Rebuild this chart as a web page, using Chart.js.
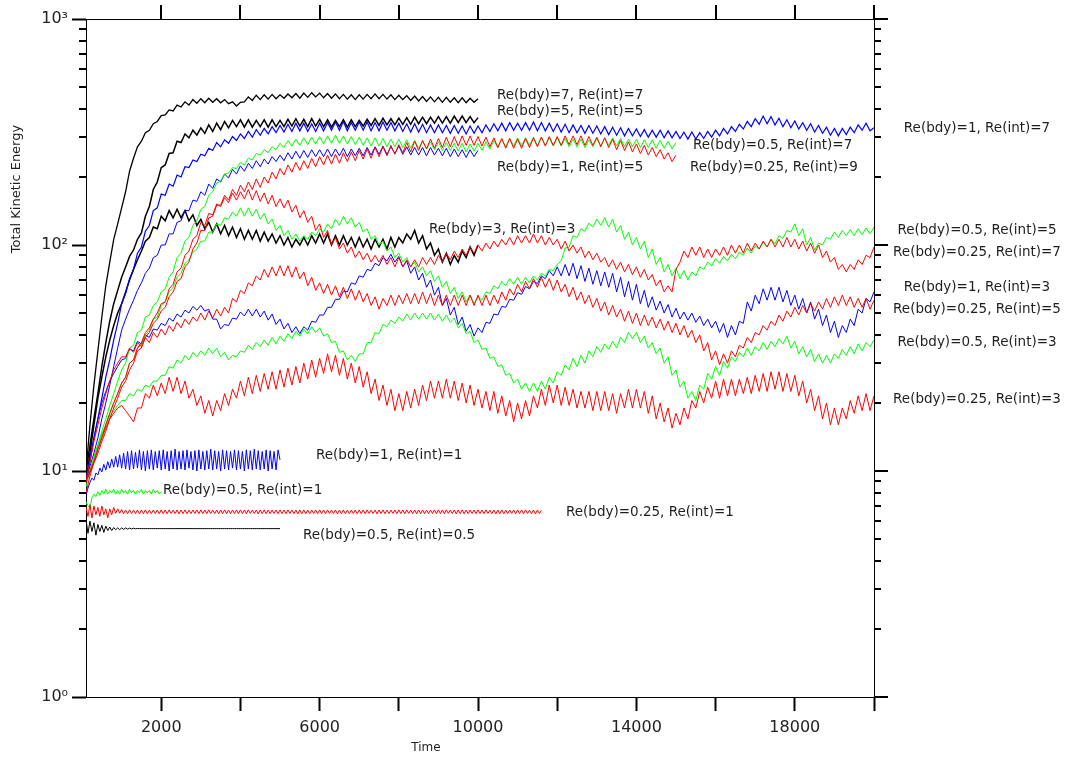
<!DOCTYPE html>
<html><head><meta charset="utf-8">
<script src="https://cdn.jsdelivr.net/npm/chart.js@4.4.1/dist/chart.umd.min.js"></script>
<style>html,body{margin:0;padding:0;background:#fff;}canvas{display:block;}</style>
</head><body>
<canvas id="c" width="1068" height="757"></canvas>
<script>
// ---------- time grid ----------
const T_START = 100;     // first sample time
const STEP = 100;        // sample spacing of main runs
const LOW_STEP = 50;     // sample spacing of low-energy runs

// ---------- axis ticks ----------
const xTickValues = [2000,4000,6000,8000,10000,12000,14000,16000,18000,20000];
const xTickLabels = [2000,6000,10000,14000,18000];
const yDecades = [1,10,100,1000];
const yDecadeLabels = ['10⁰','10¹','10²','10³'];

// ---------- series values (Total Kinetic Energy) ----------
const ke_b7_i7 = [
10,16,24,34,48,66,84,106,124,146,
172,212,242,272,288,314,322,344,352,374,
376,396,392,416,408,430,416,440,424,444,
426,446,428,444,426,440,422,430,412,428,
430,452,436,460,440,462,442,464,444,462,
446,466,448,468,446,470,450,472,452,470,
448,468,446,466,444,464,442,462,440,462,
442,464,444,466,444,464,442,462,440,460,
440,458,436,456,434,454,432,452,430,450,
428,450,428,448,426,448,426,446,428,444];

const ke_b5_i5 = [
10,13,17,22,29,37,46,55,63,72,
80,89,95,106,113,134,148,176,190,220,
226,254,256,288,284,310,298,322,306,330,
312,340,318,346,324,352,330,356,334,358,
332,358,332,356,334,358,332,358,334,356,
334,360,336,362,336,360,334,362,336,360,
334,358,332,356,334,358,332,358,334,356,
336,360,338,362,338,364,340,362,340,364,
342,366,342,368,344,368,344,368,346,370,
346,370,346,372,348,372,348,370,348,366];

const ke_b3_i3 = [
9,12,16,21,26,32,38,44,50,55,
62,70,78,86,94,104,108,120,118,134,
128,142,132,144,132,142,128,136,122,130,
118,126,114,124,112,122,110,120,108,118,
106,116,106,116,104,114,104,112,102,110,
100,108,98,106,100,108,100,110,102,112,
102,112,100,110,100,110,100,108,98,108,
98,106,96,106,98,106,96,108,98,108,
102,112,106,116,102,110,96,102,90,96,
84,92,82,90,84,94,88,98,90,100];

const ke_b1_i7 = [
9,11,14,17,21,26,31,38,45,55,
61,71,78,92,98,115,122,142,146,168,
166,186,182,204,200,222,220,238,234,252,
248,268,262,284,272,292,282,302,290,310,
296,318,300,324,306,328,310,334,314,338,
316,342,318,346,320,346,318,344,318,346,
320,348,322,350,322,352,320,348,322,350,
322,350,320,348,320,350,322,348,320,346,
318,344,316,344,316,342,314,340,314,340,
314,338,312,338,312,336,310,336,312,336,
314,340,318,344,320,346,320,348,322,346,
322,348,322,350,320,348,320,346,318,344,
316,342,314,340,314,338,312,338,312,336,
310,334,308,332,306,330,304,328,304,326,
302,324,300,322,300,322,298,320,298,318,
296,316,294,316,294,314,296,318,300,322,
304,328,310,334,318,342,326,352,334,362,
342,372,344,370,340,364,334,358,330,354,
326,348,322,344,316,338,312,332,306,328,
304,328,308,332,314,340,322,346,320,330];

const ke_b1_i5 = [
9,10.5,12,14,17,20,24,29,35,42,
47,52,57,63,68,75,79,88,90,100,
100,112,112,126,128,142,142,158,156,172,
166,186,178,196,190,206,198,216,206,224,
212,230,218,236,222,240,228,246,234,250,
236,256,240,260,242,262,244,264,246,264,
246,266,246,266,248,268,246,266,248,268,
248,270,250,272,252,274,252,272,254,274,
252,272,250,270,250,270,248,270,250,268,
248,268,246,266,246,264,244,264,246,262];

const ke_b05_i7 = [
9,10,11.5,13,15,17,19.5,22,25,28,
30,35,36,41,42,48,49,54,56,62,
64,72,76,88,92,104,108,122,128,144,
148,166,172,188,192,206,208,220,218,232,
226,242,238,254,250,264,256,272,264,282,
270,290,274,294,276,298,278,300,280,302,
280,304,282,306,282,304,280,302,278,300,
276,298,274,298,274,296,272,294,272,294,
270,292,268,290,268,288,266,286,264,286,
262,284,262,282,260,282,258,280,260,282,
262,286,266,290,270,294,272,296,274,298,
274,298,276,300,276,300,276,298,274,298,
274,296,272,294,272,294,270,292,272,296,
274,298,276,298,274,296,272,294,272,294,
270,292,270,292,268,290,268,288,266,284];

const ke_b025_i9 = [
9,9.8,10.8,12,13.5,15,17,19,21,23.5,
25,28,30,34,35,39,41,45,47,51,
53,59,62,69,71,80,84,96,102,116,
116,132,134,150,150,166,158,176,166,184,
172,190,176,196,180,200,188,210,196,218,
204,226,210,232,214,236,218,242,222,246,
226,250,228,252,230,256,234,258,236,262,
240,266,242,270,246,272,248,276,252,278,
256,284,258,288,262,290,266,294,268,296,
270,300,272,302,274,304,276,304,276,302,
274,300,272,298,270,296,268,296,268,294,
268,296,270,298,272,300,274,302,276,302,
276,304,278,304,278,304,276,302,276,300,
272,298,270,294,264,290,262,286,258,280,
254,276,250,270,246,264,240,256,234,250];

const ke_b025_i7 = [
9,10,11,12.5,14,16,18,20,22,24.5,
26,30,31,35,37,41,43,47,50,55,
56,64,67,76,79,90,94,106,110,126,
122,138,136,152,148,162,154,170,158,172,
160,176,158,174,156,170,152,166,148,160,
146,158,140,150,132,142,126,134,116,124,
108,116,100,108,96,102,92,98,88,94,
86,92,84,90,84,90,82,88,80,88,
80,86,80,86,80,88,82,88,82,90,
84,92,86,94,88,96,90,98,92,100,
94,102,96,104,98,106,100,108,100,110,
102,110,102,112,102,110,100,108,100,106,
96,104,94,100,92,98,88,94,86,92,
84,88,80,86,78,84,76,82,74,80,
72,78,70,74,66,70,62,66,62,78,
84,94,88,98,90,98,88,96,88,96,
90,98,90,100,92,100,92,102,94,102,
96,104,98,106,98,106,98,108,98,106,
96,104,94,102,92,100,88,94,84,88,
78,82,76,82,78,86,82,90,88,98];

const ke_b025_i5 = [
9,11,13.5,16,19,22,25,28,30,32,
32,35,33.5,37,35.5,39,37,41,39,42.5,
40,44,41.5,45.5,43,47,44.5,48,46,50,
46.5,51,47.5,52,48.5,53,50,58,56,63,
61,68,66,73,70,78,72,80,73,81,
73,81,72,80,71,76,66,72,63,68,
61,67,60,66,59,65,58,64,57,63,
56,61,54,59,52,58,54,60,54,60,
55,61,55,61,55,62,55,61,54,60,
54,60,54,60,54,60,54,60,54,60,
54,60,54,60,55,62,57,64,60,67,
62,69,64,71,65,72,65,71,63,70,
62,67,59,65,57,62,55,60,53,58,
51,56,49,54,48,52,46,51,45,50,
44,49,44,48,43,47,42,46,41,45,
40,44,39,42,37,40,34,37,31,34,
29.5,33,30,34,32,36,35,39,37,41,
40,44,42,46,44,49,46,51,48,53,
49,54,50,55,51,56,52,58,53,59,
54,60,54,59,53,58,53,58,52,57];

const ke_b1_i3 = [
9,11.5,14,17,20,22.5,25,27,29,31,
31.5,34.5,34,37.5,36.5,40,39,42.5,42,45,
44,47.5,46,49.5,48,51.5,50,53.5,51.5,54,
51,52,47,47,42.5,44.5,44,47.5,47,50.5,
48.5,52,48.5,52,48,51,46.5,49.5,44.5,47,
42.5,45,41,43.5,40.5,43.5,42,46,45.5,49,
49,53,53,57.5,57.5,62.5,62,68,67,73,
72,78,77,83,81,88,85,91,84,89,
80,85,75,80,70,75,65,70,60,65,
54,58,49,53,44.5,48,41.5,44.5,39.5,43,
41,45.5,45,49.5,49,53.5,53,57.5,57,61.5,
60.5,65.5,64,69,67.5,73,71,77,73,80,
73,82,73,83,71,81,69,79,67,77,
66,76,65,75,62,72,59,69,57,67,
55,63,53,59,51.5,56.5,50,54.5,48,52.5,
47,50.5,46.5,50,45.5,48.5,44,47,43,46,
41,45,39,44,40,46,45,56,51,60,
55,64,57,65,57,65,56,63,54,60,
52,58,50,56,47,52,44,49,41,46,
39,44,41,47,44,52,50,58,56,62];

const ke_b05_i5 = [
9,10,11.5,13,14.5,16,18,20,22,24.5,
26,30,31,35,36,40,42,47,48,54,
56,62,65,72,75,83,86,93,96,104,
104,114,114,124,122,132,130,140,134,146,
134,146,134,144,130,138,124,130,116,122,
110,116,106,112,104,110,106,114,110,118,
114,124,118,130,122,134,124,132,120,126,
114,118,106,110,100,104,94,98,88,92,
84,88,80,84,76,80,73,77,69,73,
65,69,61,65,58,62,56,60,55,59,
57,62,61,66,64,69,66,71,67,72,
67,72,68,73,70,75,73,78,77,82,
85,97,98,110,108,118,115,125,120,130,
122,132,120,130,114,122,106,114,100,108,
96,104,88,96,82,88,76,82,73,79,
71,77,70,76,73,80,78,84,81,87,
83,89,85,91,87,93,90,97,92,99,
96,103,98,106,101,110,107,116,114,124,
110,118,100,108,95,102,100,108,106,114,
108,116,110,117,110,118,111,119,112,120];

const ke_b05_i3 = [
8.5,10,11.5,13,14.5,16,17.5,18.5,19.5,20.5,
20.5,22,21.5,23,22.5,24,23.5,25,25,26.5,
26.5,29,28.5,31,30,32.5,31,33.5,32,34,
32.5,35,33,35,32,33.5,31,32.5,32,34,
33.5,36,34.5,37,35.5,38,36,39,36.5,39.5,
37.5,40.5,38.5,41.5,39.5,42.5,40.5,43.5,41,43,
39.5,40.5,37,37.5,33.5,34,31,32.5,30.5,33,
33,37,37,41,40.5,44.5,43.5,46.5,45,48,
46,49.5,46.5,50,47,50,47,50,46.5,49.5,
46,49,45.5,47.5,43,45,40.5,41.5,37,38,
34.5,35,31.5,32,29,29.5,26.5,27,24.5,25.5,
23,24.5,22.5,24.5,22.5,25,23,26,24.5,27.5,
26.5,29.5,28,31.5,29,32.5,30,34,32,35.5,
33.5,36.5,34.5,37.5,35,39,37,41,38.5,41,
37,39.5,35,37,33,35,30,32,26.5,28,
23.5,25,21,22.5,20.5,24,23,27,25.5,29,
26.5,30.5,28.5,32,30.5,33.5,32,35,32.5,35.5,
34,37,34.5,37.5,35.5,38.5,36.5,39.5,35,37.5,
33,35.5,32,34.5,30.5,33,30,32.5,30,33,
31.5,34.5,32.5,35.5,33,36.5,34,37,35.5,38];

const ke_b025_i3 = [
8,9.5,11,12.5,14,15.5,17,18,19,19.5,
18.5,17.5,16.5,19,19,22,21,24,21.5,24.5,
22,26,22.5,26,22,25,21,23,19.5,21.5,
18,20.5,17.5,20.5,18.5,22,19.5,23,21,25,
21.5,26,22,26.5,22.5,27,23,27.5,23,28,
23.5,28.5,24,29,24.5,30,25.5,31,26,31.5,
27,33,27.5,32.5,26.5,31.5,25.5,30,24.5,29,
23.5,27.5,22,25.5,20.5,24,19.5,23,18.5,22,
18.5,22.5,19,23,19.5,24,20.5,25,21,25,
21,25.5,21,25,20.5,24.5,20,24,19.5,23,
19,22.5,18.5,22.5,18,21.5,17.5,20.5,16.5,20,
17,20.5,17.5,21.5,19,23,19.5,24,20,24,
19.5,23.5,19.5,23,19,22.5,19,22.5,18.5,22.5,
18.5,22.5,18.5,22,18,22,19,23,19,23,
19,22.5,18,21.5,17,20,16.5,19,15.5,18,
16,19,17,20.5,19,22.5,20,23.5,21,25,
21,25.5,21.5,25.5,21.5,25.5,22,26,22,26.5,
22.5,27,22.5,27.5,23,27.5,22.5,27,22.5,26.5,
21.5,25,20,23,18.5,21.5,17,20,16,19,
16,19,17,20.5,18,21.5,18.5,22,18.5,21.5];

// low-energy runs, sampled every LOW_STEP
const ke_b1_i1 = [
7.8,8.4,8.9,9.3,9.1,9.8,9.6,10.3,9.9,10.7,
10.1,11.0,10.3,11.3,10.4,11.6,10.4,11.8,10.3,
12.0,10.2,12.2,10.1,12.3,10.2,12.1,10.3,12.4,10.1,
12.2,10.0,12.3,10.2,12.4,10.1,12.2,10.3,12.3,10.1,
12.4,10.2,12.2,10.0,12.3,10.2,12.5,10.1,12.2,10.2,
12.3,10.1,12.4,10.3,12.2,10.1,12.3,10.0,12.4,10.2,
12.2,10.1,12.3,10.2,12.5,10.1,12.3,10.2,12.2,10.0,
12.4,10.2,12.3,10.1,12.2,10.3,12.4,10.1,12.3,10.2,
12.2,10.0,12.4,10.2,12.3,10.1,12.5,10.2,12.3,10.1,
12.2,10.2,12.4,10.0,12.3,10.2,12.2,10.1,12.4,11.2];

const ke_b05_i1 = [
7.3,7.0,6.9,7.6,7.9,7.7,8.1,7.8,8.2,7.9,
8.3,7.9,8.2,8.0,8.3,7.9,8.2,7.9,8.3,8.0,
8.2,7.9,8.3,8.0,8.2,7.9,8.2,8.0,8.3,7.9,
8.2,8.0,8.2,7.9,8.3,8.0,8.2,7.9,8.1];

const ke_b025_i1 = [
6.9,6.3,7.1,6.2,7.0,6.4,6.9,6.3,7.0,6.4,
6.8,6.2,6.8,6.4,6.9,6.5,6.8,6.5,6.75,
6.48,6.72,6.47,6.73,6.49,6.71,6.48,6.72,6.46,6.72,
6.48,6.73,6.47,6.71,6.48,6.72,6.49,6.72,6.47,6.73,
6.48,6.72,6.47,6.73,6.49,6.71,6.48,6.72,6.46,6.72,
6.48,6.73,6.47,6.71,6.48,6.72,6.49,6.72,6.47,6.73,
6.48,6.72,6.47,6.73,6.49,6.71,6.48,6.72,6.46,6.72,
6.48,6.73,6.47,6.71,6.48,6.72,6.49,6.72,6.47,6.73,
6.48,6.72,6.47,6.73,6.49,6.71,6.48,6.72,6.46,6.72,
6.48,6.73,6.47,6.71,6.48,6.72,6.49,6.72,6.47,6.73,
6.48,6.72,6.47,6.73,6.49,6.71,6.48,6.72,6.46,6.72,
6.48,6.73,6.47,6.71,6.48,6.72,6.49,6.72,6.47,6.73,
6.48,6.72,6.47,6.73,6.49,6.71,6.48,6.72,6.46,6.72,
6.48,6.73,6.47,6.71,6.48,6.72,6.49,6.72,6.47,6.73,
6.48,6.72,6.47,6.73,6.49,6.71,6.48,6.72,6.46,6.72,
6.48,6.73,6.47,6.71,6.48,6.72,6.49,6.72,6.47,6.73,
6.48,6.72,6.47,6.73,6.49,6.71,6.48,6.72,6.46,6.72,
6.48,6.73,6.47,6.71,6.48,6.72,6.49,6.72,6.47,6.73,
6.48,6.72,6.47,6.73,6.49,6.71,6.48,6.72,6.46,6.72,
6.48,6.73,6.47,6.71,6.48,6.72,6.49,6.72,6.47,6.73,
6.48,6.72,6.47,6.73,6.49,6.71,6.48,6.72,6.46,6.72,
6.48,6.73,6.47,6.71,6.48,6.72,6.49,6.72,6.47,6.73,
6.48,6.72,6.47,6.73,6.49,6.71,6.48,6.72,6.46,6.72,
6.48,6.70];

const ke_b05_i05 = [
6.1,5.3,6.0,5.4,5.9,5.2,5.8,5.4,5.75,5.35,
5.7,5.45,5.65,5.45,5.62,5.5,5.6,5.5,5.6,5.52,
5.6,5.53,5.59,5.54,5.58,5.55,5.57,
5.56,5.56,5.56,5.56,5.56,5.56,5.56,5.56,5.56,5.56,
5.56,5.56,5.56,5.56,5.56,5.56,5.56,5.56,5.56,5.56,
5.56,5.56,5.56,5.56,5.56,5.56,5.56,5.56,5.56,5.56,
5.56,5.56,5.56,5.56,5.56,5.56,5.56,5.56,5.56,5.56,
5.56,5.56,5.56,5.56,5.56,5.56,5.56,5.56,5.56,5.56,
5.56,5.56,5.56,5.56,5.56,5.56,5.56,5.56,5.56,5.56,
5.56,5.56,5.56,5.56,5.56,5.56,5.56,5.56,5.56,5.56,
5.56,5.56];

// ---------- series table (values + style) ----------
const RED = '#ff0000', GREEN = '#00ff00', BLUE = '#0000ff', BLACK = '#000000';
const seriesTable = [
  {name:'Re(bdy)=0.25, Re(int)=3', values:ke_b025_i3, step:STEP, color:RED, width:1},
  {name:'Re(bdy)=0.25, Re(int)=5', values:ke_b025_i5, step:STEP, color:RED, width:1},
  {name:'Re(bdy)=0.25, Re(int)=7', values:ke_b025_i7, step:STEP, color:RED, width:1},
  {name:'Re(bdy)=0.25, Re(int)=9', values:ke_b025_i9, step:STEP, color:RED, width:1},
  {name:'Re(bdy)=0.25, Re(int)=1', values:ke_b025_i1, step:LOW_STEP, color:RED, width:1},
  {name:'Re(bdy)=0.5, Re(int)=3', values:ke_b05_i3, step:STEP, color:GREEN, width:1},
  {name:'Re(bdy)=0.5, Re(int)=5', values:ke_b05_i5, step:STEP, color:GREEN, width:1},
  {name:'Re(bdy)=0.5, Re(int)=7', values:ke_b05_i7, step:STEP, color:GREEN, width:1},
  {name:'Re(bdy)=0.5, Re(int)=1', values:ke_b05_i1, step:LOW_STEP, color:GREEN, width:1},
  {name:'Re(bdy)=1, Re(int)=3', values:ke_b1_i3, step:STEP, color:BLUE, width:1},
  {name:'Re(bdy)=1, Re(int)=5', values:ke_b1_i5, step:STEP, color:BLUE, width:1},
  {name:'Re(bdy)=1, Re(int)=7', values:ke_b1_i7, step:STEP, color:BLUE, width:1.2},
  {name:'Re(bdy)=1, Re(int)=1', values:ke_b1_i1, step:LOW_STEP, color:BLUE, width:1},
  {name:'Re(bdy)=0.5, Re(int)=0.5', values:ke_b05_i05, step:LOW_STEP, color:BLACK, width:1},
  {name:'Re(bdy)=3, Re(int)=3', values:ke_b3_i3, step:STEP, color:BLACK, width:1.5},
  {name:'Re(bdy)=5, Re(int)=5', values:ke_b5_i5, step:STEP, color:BLACK, width:1.5},
  {name:'Re(bdy)=7, Re(int)=7', values:ke_b7_i7, step:STEP, color:BLACK, width:1.3}
];

// ---------- curve annotations (pixel anchors) ----------
const FONT_FAMILY = '"DejaVu Sans", "Liberation Sans", sans-serif';
const curveLabels = [
  {text:'Re(bdy)=7, Re(int)=7', x:497, y:95, align:'left'},
  {text:'Re(bdy)=5, Re(int)=5', x:497, y:111, align:'left'},
  {text:'Re(bdy)=1, Re(int)=5', x:497, y:167, align:'left'},
  {text:'Re(bdy)=0.5, Re(int)=7', x:693, y:145, align:'left'},
  {text:'Re(bdy)=0.25, Re(int)=9', x:690, y:167, align:'left'},
  {text:'Re(bdy)=3, Re(int)=3', x:429, y:229, align:'left'},
  {text:'Re(bdy)=1, Re(int)=1', x:316, y:455, align:'left'},
  {text:'Re(bdy)=0.5, Re(int)=1', x:163, y:490, align:'left'},
  {text:'Re(bdy)=0.25, Re(int)=1', x:566, y:512, align:'left'},
  {text:'Re(bdy)=0.5, Re(int)=0.5', x:303, y:535, align:'left'},
  {text:'Re(bdy)=1, Re(int)=7', x:977, y:128, align:'center'},
  {text:'Re(bdy)=0.5, Re(int)=5', x:977, y:230, align:'center'},
  {text:'Re(bdy)=0.25, Re(int)=7', x:977, y:252, align:'center'},
  {text:'Re(bdy)=1, Re(int)=3', x:977, y:287, align:'center'},
  {text:'Re(bdy)=0.25, Re(int)=5', x:977, y:309, align:'center'},
  {text:'Re(bdy)=0.5, Re(int)=3', x:977, y:342, align:'center'},
  {text:'Re(bdy)=0.25, Re(int)=3', x:977, y:399, align:'center'}
];

const datasets = seriesTable.map(s => ({
  label: s.name,
  data: s.values.map((v, i) => ({x: T_START + i * s.step, y: v})),
  borderColor: s.color,
  borderWidth: s.width,
  pointRadius: 0,
  fill: false,
  tension: 0
}));

const framePlugin = {
  id: 'frame',
  afterDraw(chart) {
    const {ctx, chartArea: a} = chart;
    const xs = chart.scales.x, ys = chart.scales.y;
    ctx.save();
    ctx.strokeStyle = '#000';
    // top & right frame lines
    ctx.lineWidth = 1;
    ctx.beginPath();
    ctx.moveTo(a.left, Math.round(a.top) + 0.5);
    ctx.lineTo(a.right + 1, Math.round(a.top) + 0.5);
    ctx.moveTo(Math.round(a.right) + 0.5, a.top);
    ctx.lineTo(Math.round(a.right) + 0.5, a.bottom);
    ctx.stroke();
    // top ticks (outward)
    ctx.lineWidth = 2;
    ctx.beginPath();
    xTickValues.forEach(v => {
      const px = Math.round(xs.getPixelForValue(v));
      ctx.moveTo(px, a.top); ctx.lineTo(px, a.top - 14);
    });
    // right major ticks
    yDecades.forEach(v => {
      const py = Math.round(ys.getPixelForValue(v));
      ctx.moveTo(a.right, py); ctx.lineTo(a.right + 14, py);
    });
    // minor ticks left & right
    for (let d = 0; d < 3; d++) {
      for (let m = 2; m <= 9; m++) {
        const py = Math.round(ys.getPixelForValue(m * Math.pow(10, d)));
        ctx.moveTo(a.left - 7, py); ctx.lineTo(a.left, py);
        ctx.moveTo(a.right, py); ctx.lineTo(a.right + 7, py);
      }
    }
    ctx.stroke();
    // curve labels
    ctx.fillStyle = '#1e1e1e';
    ctx.font = '13.5px ' + FONT_FAMILY;
    ctx.textBaseline = 'middle';
    curveLabels.forEach(l => {
      ctx.textAlign = l.align;
      ctx.fillText(l.text, l.x, l.y);
    });
    // axis titles
    ctx.textAlign = 'center';
    ctx.font = '12px ' + FONT_FAMILY;
    ctx.fillText('Time', 426, 748);
    ctx.translate(17, 189);
    ctx.rotate(-Math.PI / 2);
    ctx.font = '13px ' + FONT_FAMILY;
    ctx.fillText('Total Kinetic Energy', 0, 0);
    ctx.restore();
  }
};

new Chart(document.getElementById('c'), {
  type: 'line',
  data: {datasets},
  options: {
    responsive: false,
    animation: false,
    devicePixelRatio: 1,
    layout: {padding: {top: 19, right: 194, left: 0, bottom: 0}},
    plugins: {legend: {display: false}, tooltip: {enabled: false}, title: {display: false}},
    elements: {point: {radius: 0}, line: {tension: 0}},
    scales: {
      x: {
        type: 'linear', position: 'bottom', min: 100, max: 20000,
        afterBuildTicks: s => { s.ticks = xTickValues.map(v => ({value: v})); },
        afterFit: s => { s.height = 60; },
        grid: {drawOnChartArea: false, drawTicks: true, tickLength: 14, tickWidth: 2, tickColor: '#000'},
        border: {display: true, color: '#000', width: 1},
        ticks: {autoSkip: false, maxRotation: 0, padding: 7, color: '#222',
                font: {family: FONT_FAMILY, size: 16},
                callback: v => xTickLabels.includes(v) ? String(v) : ''}
      },
      y: {
        type: 'logarithmic', position: 'left', min: 1, max: 1000,
        afterBuildTicks: s => { s.ticks = yDecades.map(v => ({value: v})); },
        afterFit: s => { s.width = 86; },
        grid: {drawOnChartArea: false, drawTicks: true, tickLength: 14, tickWidth: 2, tickColor: '#000'},
        border: {display: true, color: '#000', width: 1},
        ticks: {autoSkip: false, padding: 4, color: '#222',
                font: {family: FONT_FAMILY, size: 16},
                callback: v => yDecadeLabels[yDecades.indexOf(v)] || ''}
      }
    }
  },
  plugins: [framePlugin]
});
</script>
</body></html>
